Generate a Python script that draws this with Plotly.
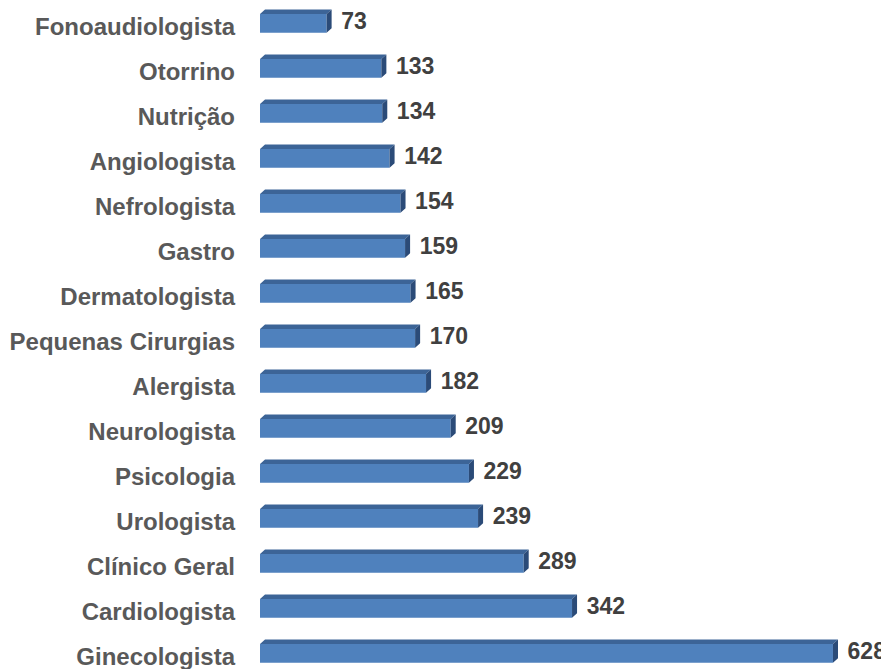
import plotly.graph_objects as go

# bottom to top
categories = ["Ginecologista", "Cardiologista", "Clínico Geral", "Urologista", "Psicologia",
              "Neurologista", "Alergista", "Pequenas Cirurgias", "Dermatologista", "Gastro",
              "Nefrologista", "Angiologista", "Nutrição", "Otorrino", "Fonoaudiologista"]
values = [628, 342, 289, 239, 229, 209, 182, 170, 165, 159, 154, 142, 134, 133, 73]

FRONT = "#4F81BD"
TOP = "#3C6497"
SIDE = "#2B4B78"
LABEL_FONT = "Arial, Liberation Sans, sans-serif"

BAR_W = 0.42      # bar thickness (category units)
LIFT = 0.08       # bar sits slightly above its tick label
DX = 5.5          # depth offset along x (value units)
DY = 0.1          # depth offset along y (category units)

pos = list(range(len(categories)))
centers = [p + LIFT for p in pos]

# build the top and side faces of each bar from its value
top_x, top_y, side_x, side_y = [], [], [], []
for c, v in zip(centers, values):
    t, b = c + BAR_W / 2, c - BAR_W / 2
    top_x += [0, v, v + DX, DX, 0, None]
    top_y += [t, t, t + DY, t + DY, t, None]
    side_x += [v, v, v + DX, v + DX, v, None]
    side_y += [t, b, b + DY, t + DY, t, None]

fig = go.Figure()
fig.add_trace(go.Bar(
    x=values, y=centers, orientation="h", width=BAR_W,
    marker=dict(color=FRONT, line=dict(width=0)),
))
fig.add_trace(go.Scatter(x=top_x, y=top_y, mode="lines", fill="toself",
                         fillcolor=TOP, line=dict(width=0, color=TOP)))
fig.add_trace(go.Scatter(x=side_x, y=side_y, mode="lines", fill="toself",
                         fillcolor=SIDE, line=dict(width=0, color=SIDE)))
fig.add_trace(go.Scatter(
    x=[v + 16 for v in values], y=centers, mode="text", cliponaxis=False,
    text=[str(v) for v in values], textposition="middle right",
    textfont=dict(family=LABEL_FONT, size=23, color="#404040", weight="bold"),
))

# page body has an 8px margin; the extra right/bottom margin keeps the plot area where the reference has it
fig.update_layout(
    width=889, height=669,
    margin=dict(l=252, r=8, t=0, b=8),
    paper_bgcolor="white", plot_bgcolor="white",
    showlegend=False, hovermode=False,
    xaxis=dict(range=[0, 689.4], visible=False, fixedrange=True),
    yaxis=dict(
        range=[-0.267, 14.422], tickvals=pos, ticktext=categories,
        showgrid=False, zeroline=False, showline=False, ticks="",
        ticklabelstandoff=24, ticklabeloverflow="allow", fixedrange=True,
        tickfont=dict(family=LABEL_FONT, size=24, color="#595959", weight="bold"),
    ),
)

fig.write_html("out.html")
